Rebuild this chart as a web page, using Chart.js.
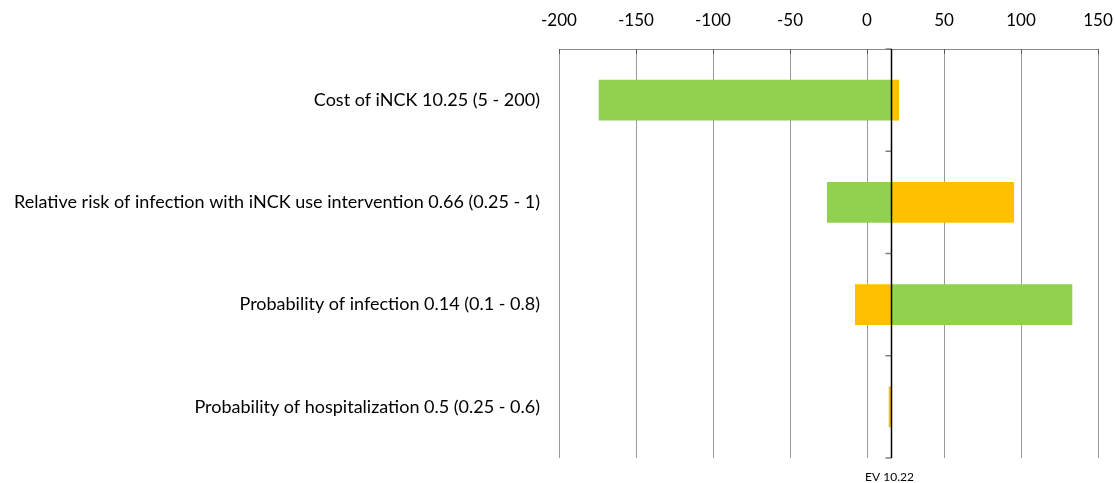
<!DOCTYPE html>
<html>
<head>
<meta charset="utf-8">
<script src="https://cdn.jsdelivr.net/npm/chart.js@4.4.0/dist/chart.umd.min.js"></script>
<style>
  html, body { margin:0; padding:0; background:#fff; }
  #wrap { width:1115px; height:483px; }
</style>
</head>
<body>
<div id="wrap"><canvas id="tornado" width="1115" height="483"></canvas></div>
<script>
/* tornado chart - sensitivity of EV */

// category labels (top to bottom)
const categories = [
  'Cost of iNCK 10.25 (5 - 200)',
  'Relative risk of infection with iNCK use intervention 0.66 (0.25 - 1)',
  'Probability of infection 0.14 (0.1 - 0.8)',
  'Probability of hospitalization 0.5 (0.25 - 0.6)'
];
// where the EV line sits on the value axis, and its label
const evPos = 15.6;
const evLabel = 'EV 10.22';
// bar ends, each bar runs from the EV line to this value
const greenEnds  = [-174.2, -26.0, 133.3, null];
const orangeEnds = [20.8, 95.5, -7.8, 14.1];
// value axis
const axisMin = -200, axisMax = 150, axisStep = 50;

const FONT = 'Lato, "Open Sans", "Liberation Sans", sans-serif';

function toBars(ends){
  return ends.map(v => v === null ? null : [evPos, v]);
}

const evLinePlugin = {
  id: 'evLine',
  afterDatasetsDraw(chart){
    const ctx = chart.ctx, ca = chart.chartArea;
    const xs = chart.scales.x, ys = chart.scales.y;
    const x = Math.round(xs.getPixelForValue(evPos)) + 0.5;
    ctx.save();
    // small inside ticks on the top axis
    ctx.strokeStyle = '#595959'; ctx.lineWidth = 1;
    xs.ticks.forEach(t => {
      const tx = Math.round(xs.getPixelForValue(t.value)) + 0.5;
      ctx.beginPath(); ctx.moveTo(tx, ca.top); ctx.lineTo(tx, ca.top + 5); ctx.stroke();
    });
    // category ticks on the EV line
    ctx.strokeStyle = '#7f7f7f'; ctx.lineWidth = 1.5;
    for(let i=0;i<=categories.length;i++){
      const y = ys.getPixelForValue(i - 0.5);
      ctx.beginPath(); ctx.moveTo(x - 6, y); ctx.lineTo(x, y); ctx.stroke();
    }
    // EV line
    ctx.strokeStyle = '#000'; ctx.lineWidth = 1.5;
    ctx.beginPath(); ctx.moveTo(x, ca.top); ctx.lineTo(x, ca.bottom); ctx.stroke();
    // EV label
    ctx.fillStyle = '#000';
    ctx.font = '12px ' + FONT;
    ctx.textAlign = 'center'; ctx.textBaseline = 'middle';
    ctx.fillText(evLabel, x - 2, ca.bottom + 19);
    ctx.restore();
  }
};

new Chart(document.getElementById('tornado'), {
  type: 'bar',
  data: {
    labels: categories,
    datasets: [
      { data: toBars(greenEnds), backgroundColor: '#92D050', grouped: false,
        barPercentage: 0.4, categoryPercentage: 1 },
      { data: toBars(orangeEnds), backgroundColor: '#FFC000', grouped: false,
        barPercentage: 0.4, categoryPercentage: 1 }
    ]
  },
  options: {
    indexAxis: 'y',
    responsive: false,
    animation: false,
    layout: { padding: { left: 0, right: 17, top: 0, bottom: 25 } },
    plugins: { legend: { display: false }, tooltip: { enabled: false } },
    scales: {
      x: {
        position: 'top',
        min: axisMin, max: axisMax,
        ticks: { stepSize: axisStep, color: '#000', font: { size: 17, family: FONT }, padding: 18 },
        grid: { color: '#999', lineWidth: 1, drawTicks: false },
        border: { display: true, color: '#888', width: 1 },
        afterFit(s){ s.height = 49; s.paddingLeft = 0; s.paddingRight = 0; }
      },
      y: {
        ticks: { color: '#000', font: { size: 18, family: FONT }, padding: 11 },
        grid: { display: false },
        border: { display: false },
        afterFit(s){ s.width = 559; s.paddingTop = 0; s.paddingBottom = 0; }
      }
    }
  },
  plugins: [evLinePlugin]
});
</script>
</body>
</html>
